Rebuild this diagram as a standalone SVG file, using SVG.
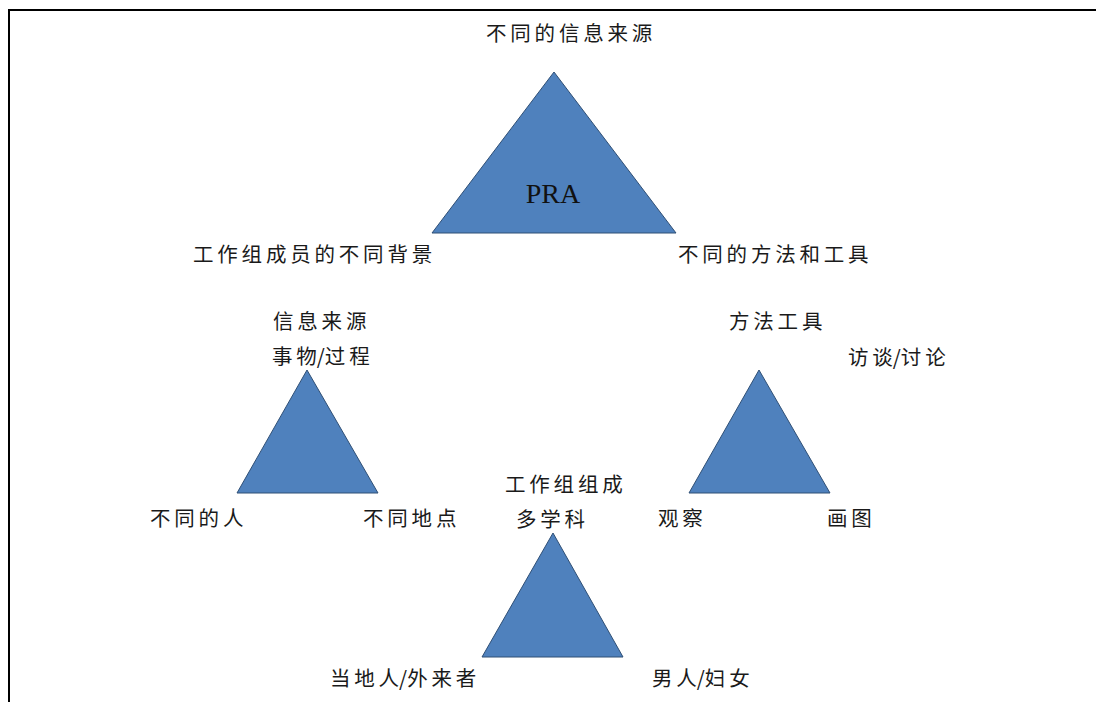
<svg xmlns="http://www.w3.org/2000/svg" width="1096" height="702" viewBox="0 0 1096 702">
<style>
.tri{fill:#4F81BD;stroke:#2F4F75;stroke-width:1}
.lbl{font-family:"Noto Sans CJK SC","Liberation Sans",sans-serif;font-size:20.5px;fill:#1a1a1a;letter-spacing:3.8px}
.tight{letter-spacing:0px}
.pra{font-family:"Liberation Serif","Noto Sans CJK SC",serif;font-size:28px;fill:#111}
.frame{stroke:#000;stroke-width:2;fill:none}
</style>
<rect width="1096" height="702" fill="#fff"/>
<path class="frame" d="M9,702 V10 H1096"/>
<g id="main-triangle">
<polygon class="tri" points="554,72 432,233 676,233"/>
<text class="pra" x="553" y="203" text-anchor="middle">PRA</text>
<text class="lbl" x="486" y="41">不同的信息来源</text>
<text class="lbl" x="193" y="262">工作组成员的不同背景</text>
<text class="lbl" x="678" y="262">不同的方法和工具</text>
</g>
<g id="info-source">
<polygon class="tri" points="307,370 237,493 378,493"/>
<text class="lbl" x="273" y="329">信息来源</text>
<text class="lbl" x="272" y="364">事<tspan class="tight">物/</tspan>过程</text>
<text class="lbl" x="150" y="526">不同的人</text>
<text class="lbl" x="363" y="526">不同地点</text>
</g>
<g id="methods-tools">
<polygon class="tri" points="759,370 689,493 830,493"/>
<text class="lbl" x="729" y="329">方法工具</text>
<text class="lbl" x="848" y="365">访<tspan class="tight">谈/</tspan>讨论</text>
<text class="lbl" x="658" y="526">观察</text>
<text class="lbl" x="827" y="526">画图</text>
</g>
<g id="team-composition">
<polygon class="tri" points="553,533 482,657 623,657"/>
<text class="lbl" x="505" y="492">工作组组成</text>
<text class="lbl" x="516" y="527">多学科</text>
<text class="lbl" x="330" y="686">当地<tspan class="tight">人/</tspan>外来者</text>
<text class="lbl" x="652" y="686">男<tspan class="tight">人/</tspan>妇女</text>
</g>
<g id="connectors"></g>
</svg>
